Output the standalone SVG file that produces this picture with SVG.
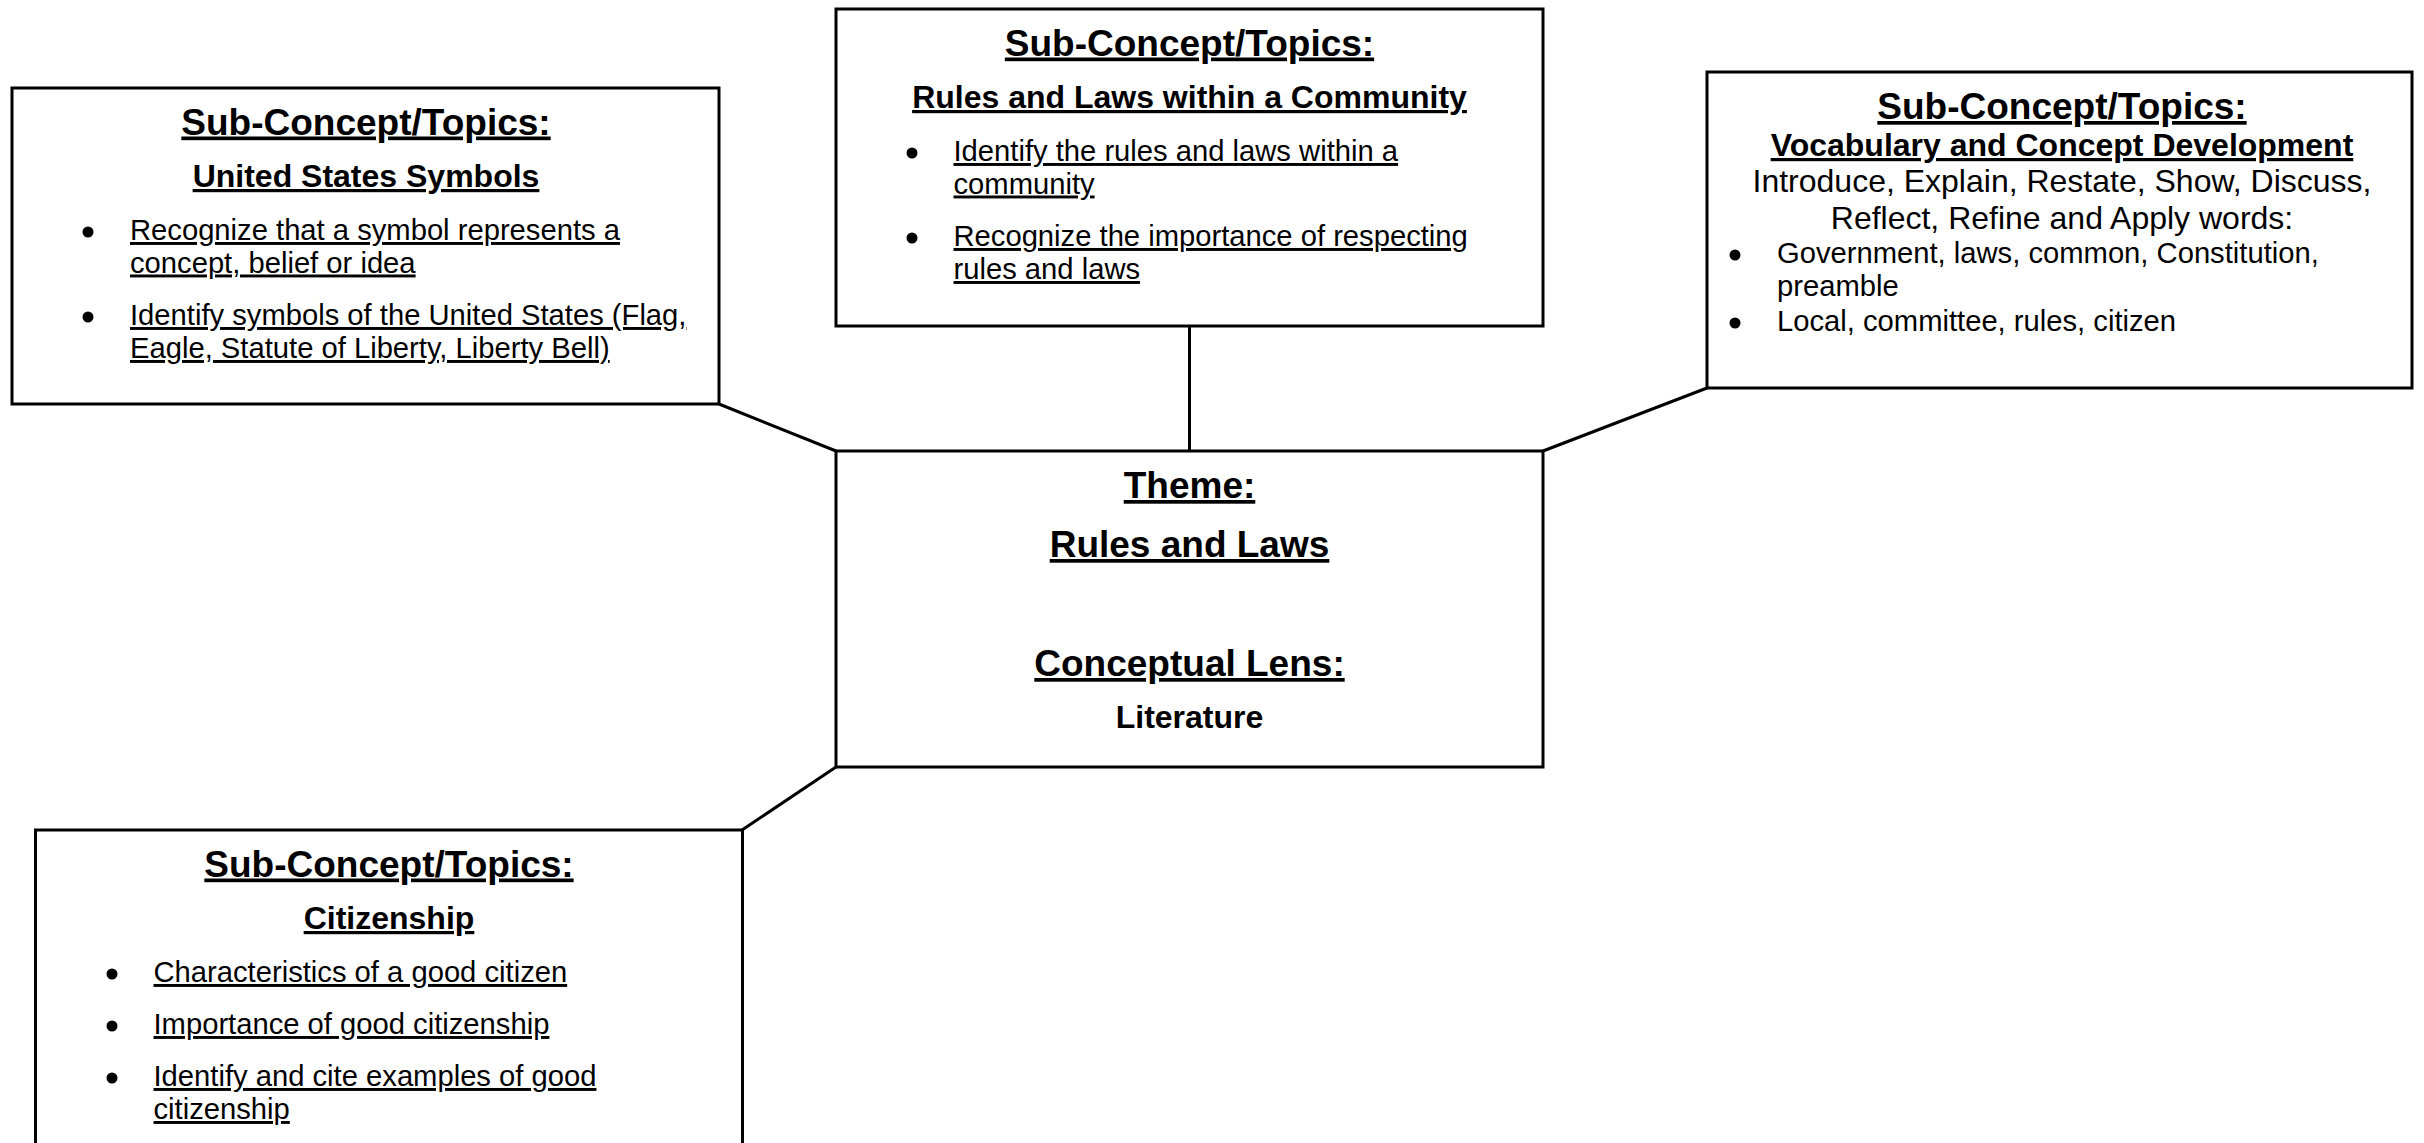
<svg xmlns="http://www.w3.org/2000/svg" width="2424" height="1143" viewBox="0 0 2424 1143">
<style>
.box{fill:#fff;stroke:#000;stroke-width:3}
.conn line{stroke:#000;stroke-width:3}
text{font-family:"Liberation Sans",Arial,sans-serif;fill:#000}
.h{font-size:37px;font-weight:bold;text-decoration:underline;text-anchor:middle}
.s{font-size:32px;font-weight:bold;text-decoration:underline;text-anchor:middle}
.b{font-size:29.2px;text-decoration:underline}
.p{font-size:32px;text-anchor:middle}
.v{font-size:29.2px}
.lit{font-size:32px;font-weight:bold;text-anchor:middle}
.dot{fill:#000}
</style>
<rect width="2424" height="1143" fill="#fff"/>
<g id="connectors" class="conn">
<line x1="719" y1="404" x2="836" y2="451"/>
<line x1="1189.5" y1="326" x2="1189.5" y2="451"/>
<line x1="1707" y1="388" x2="1543" y2="451"/>
<line x1="836" y1="767" x2="742" y2="830"/>
</g>
<g id="node-us-symbols">
<rect class="box" x="12" y="88" width="707" height="316"/>
<text class="h" x="366" y="134.5">Sub-Concept/Topics:</text>
<text class="s" x="366" y="187">United States Symbols</text>
<circle class="dot" cx="88" cy="232" r="5.5"/>
<text class="b" x="130" y="240">Recognize that a symbol represents a</text>
<text class="b" x="130" y="272.5">concept, belief or idea</text>
<circle class="dot" cx="88" cy="317" r="5.5"/>
<text class="b" x="130" y="325">Identify symbols of the United States (Flag,</text>
<text class="b" x="130" y="358">Eagle, Statute of Liberty, Liberty Bell)</text>
</g>
<g id="node-community">
<rect class="box" x="836" y="9" width="707" height="317"/>
<text class="h" x="1189.5" y="55.5">Sub-Concept/Topics:</text>
<text class="s" x="1189.5" y="108">Rules and Laws within a Community</text>
<circle class="dot" cx="912" cy="153" r="5.5"/>
<text class="b" x="953.5" y="161">Identify the rules and laws within a</text>
<text class="b" x="953.5" y="193.5">community</text>
<circle class="dot" cx="912" cy="238" r="5.5"/>
<text class="b" x="953.5" y="246">Recognize the importance of respecting</text>
<text class="b" x="953.5" y="279">rules and laws</text>
</g>
<g id="node-vocabulary">
<rect class="box" x="1707" y="72" width="705" height="316"/>
<text class="h" x="2062" y="119">Sub-Concept/Topics:</text>
<text class="s" x="2062" y="156">Vocabulary and Concept Development</text>
<text class="p" x="2062" y="192">Introduce, Explain, Restate, Show, Discuss,</text>
<text class="p" x="2062" y="229">Reflect, Refine and Apply words:</text>
<circle class="dot" cx="1735" cy="255" r="5.5"/>
<text class="v" x="1777" y="263">Government, laws, common, Constitution,</text>
<text class="v" x="1777" y="296">preamble</text>
<circle class="dot" cx="1735" cy="323" r="5.5"/>
<text class="v" x="1777" y="331">Local, committee, rules, citizen</text>
</g>
<g id="node-theme">
<rect class="box" x="836" y="451" width="707" height="316"/>
<text class="h" x="1189.5" y="498">Theme:</text>
<text class="h" x="1189.5" y="557">Rules and Laws</text>
<text class="h" x="1189.5" y="676">Conceptual Lens:</text>
<text class="lit" x="1189.5" y="728">Literature</text>
</g>
<g id="node-citizenship">
<rect class="box" x="35.5" y="830" width="707" height="330"/>
<text class="h" x="389" y="876.5">Sub-Concept/Topics:</text>
<text class="s" x="389" y="929">Citizenship</text>
<circle class="dot" cx="112" cy="974" r="5.5"/>
<text class="b" x="153.5" y="982">Characteristics of a good citizen</text>
<circle class="dot" cx="112" cy="1026" r="5.5"/>
<text class="b" x="153.5" y="1034">Importance of good citizenship</text>
<circle class="dot" cx="112" cy="1078" r="5.5"/>
<text class="b" x="153.5" y="1086">Identify and cite examples of good</text>
<text class="b" x="153.5" y="1119">citizenship</text>
</g>
</svg>
